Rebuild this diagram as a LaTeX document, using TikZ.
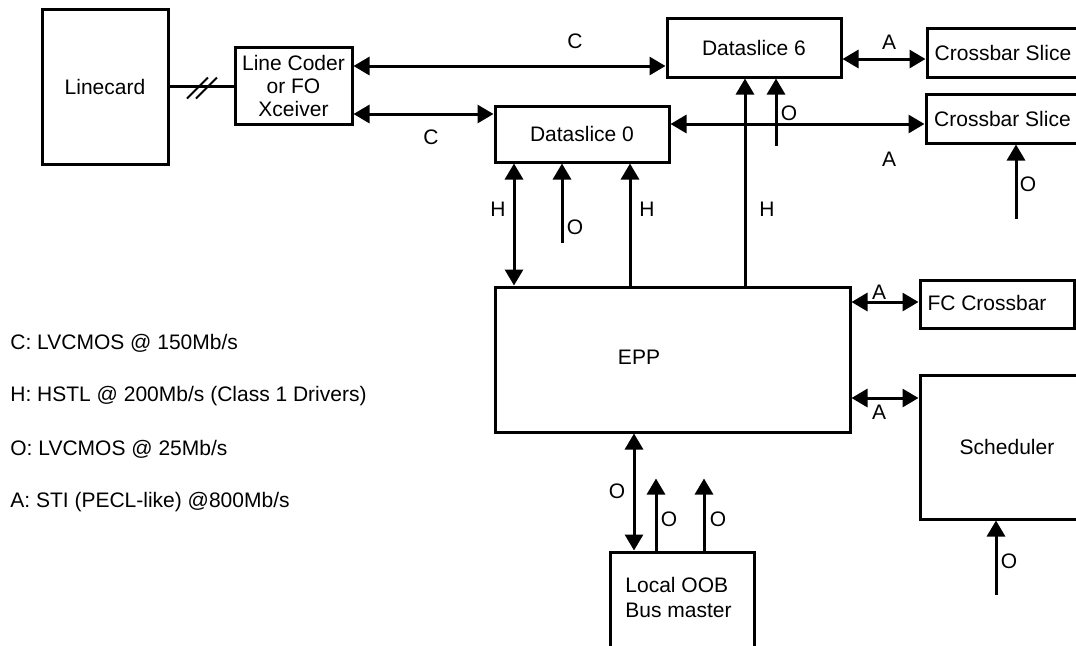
\documentclass[tikz,border=0pt]{standalone}
\usepackage{fontspec}
\setmainfont{Liberation Sans}
\usetikzlibrary{arrows.meta,calc}
\begin{document}
\begin{tikzpicture}[x=0.5pt,y=-0.5pt,
  every node/.style={font=\fontsize{10.5}{11.5}\selectfont},
  box/.style={draw,line width=1.5pt,inner sep=0pt},
  lbl/.style={inner sep=0pt},
  tip/.tip={Triangle[length=8pt,width=9pt]},
  arr/.style={line width=1.5pt,-tip},
  biarr/.style={line width=1.5pt,tip-tip},
  slash/.style={line width=1pt}]
\clip (0,0) rectangle (1076,645);
\useasboundingbox (0,0) rectangle (1076,645);

% boxes
\node[box,minimum width=63pt,minimum height=77.5pt] (linecard) at (105,86.5) {Linecard};
\node[box,minimum width=58.5pt,minimum height=38.5pt,align=center] (lc) at (293.5,85.5) {Line Coder\\or FO\\Xceiver};
\node[box,minimum width=87pt,minimum height=29.5pt] (ds6) at (754,47.5) {Dataslice 6};
\node[box,minimum width=87pt,minimum height=28pt] (ds0) at (582,134) {Dataslice 0};
\node[box,minimum width=76pt,minimum height=24.5pt] (cb1) at (1003,52.5) {Crossbar Slice};
\node[box,minimum width=76.5pt,minimum height=24.5pt] (cb2) at (1002.5,118.5) {Crossbar Slice};
\node[box,minimum width=77pt,minimum height=24pt] (fc) at (997,304) {};
\node[lbl] (fct) at (987,303) {FC Crossbar};
\node[box,minimum width=177.5pt,minimum height=72.5pt] (epp) at (672.5,359.5) {};
\node[lbl] (eppt) at (639,357) {EPP};
\node[box,minimum width=87pt,minimum height=72pt] (sched) at (1007,447) {Scheduler};
\node[box,minimum width=72pt,minimum height=74pt] (oob) at (682,626) {};
\node[lbl,anchor=west,align=left,font=\fontsize{10.5}{12.5}\selectfont] (oobt) at (625,597.5) {Local OOB\\Bus master};

% linecard link with double slash
\draw[line width=1.5pt] (linecard.east) -- (linecard.east -| lc.west);
\coordinate (mid) at ($(linecard.east)!0.5!(linecard.east -| lc.west)$);
\draw[slash] ([shift={(-14.5,12)}]mid) -- ([shift={(6.5,-9)}]mid);
\draw[slash] ([shift={(-5.5,12)}]mid) -- ([shift={(15.5,-9)}]mid);

% horizontal connectors
\draw[biarr] ([yshift=9.75pt]lc.east) -- ([yshift=-9.25pt]ds6.west);
\draw[biarr] ([yshift=-14.25pt]lc.east) -- ([yshift=10pt]ds0.west);
\draw[biarr] ([yshift=-5.75pt]ds6.east) -- ([yshift=-3.25pt]cb1.west);
\draw[biarr] ([yshift=5pt]ds0.east) -- ([yshift=-2.75pt]cb2.west);
\draw[biarr] ([yshift=28.75pt]epp.east) -- ([yshift=1pt]fc.west);
\draw[biarr] ([yshift=-19.25pt]epp.east) -- ([yshift=24.5pt]sched.west);

% vertical connectors around dataslices
\coordinate (h0) at ([xshift=-34pt]ds0.south);
\draw[biarr] (h0) -- (h0 |- epp.north);
\coordinate (o0) at ([xshift=-10pt]ds0.south);
\coordinate (o0e) at ([yshift=-39.5pt]o0);
\draw[arr] (o0e) -- (o0);
\coordinate (h1) at ([xshift=24pt]ds0.south);
\draw[arr] (h1 |- epp.north) -- (h1);
\coordinate (h6) at ([xshift=-4.5pt]ds6.south);
\draw[arr] (h6 |- epp.north) -- (h6);
\coordinate (o6) at ([xshift=11pt]ds6.south);
\coordinate (o6e) at ([yshift=-33.5pt]o6);
\draw[arr] (o6e) -- (o6);
\coordinate (oc) at ([xshift=6.75pt]cb2.south);
\coordinate (oce) at ([yshift=-37pt]oc);
\draw[arr] (oce) -- (oc);
\coordinate (os) at ([xshift=-5.5pt]sched.south);
\coordinate (ose) at ([yshift=-37pt]os);
\draw[arr] (ose) -- (os);

% local OOB connectors
\coordinate (b0) at ([xshift=-24pt]oob.north);
\draw[biarr] (b0 |- epp.south) -- (b0);
\coordinate (b1) at ([xshift=-13pt]oob.north);
\coordinate (b1e) at ([yshift=36pt]b1);
\draw[arr] (b1) -- (b1e);
\coordinate (b2) at ([xshift=11pt]oob.north);
\coordinate (b2e) at ([yshift=36pt]b2);
\draw[arr] (b2) -- (b2e);

% connector labels
\node[lbl] (lC1) at (575,41) {C};
\node[lbl] (lC2) at (431,137) {C};
\node[lbl] (lA1) at (889,42) {A};
\node[lbl] (lA2) at (889,159) {A};
\node[lbl] (lO6) at (789,113) {O};
\node[lbl] (lH0) at (498,209) {H};
\node[lbl] (lO0) at (575,227) {O};
\node[lbl] (lH1) at (647,209) {H};
\node[lbl] (lH6) at (767,209) {H};
\node[lbl] (lOc) at (1028,184) {O};
\node[lbl] (lA3) at (879,292) {A};
\node[lbl] (lA4) at (879,412) {A};
\node[lbl] (lOs) at (1009,561) {O};
\node[lbl] (lB0) at (617,491) {O};
\node[lbl] (lB1) at (669,519) {O};
\node[lbl] (lB2) at (718,519) {O};

% legend
\node[lbl,anchor=west] (legC) at (10,343) {C: LVCMOS @ 150Mb/s};
\node[lbl,anchor=west] (legH) at (10,396) {H: HSTL @ 200Mb/s (Class 1 Drivers)};
\node[lbl,anchor=west] (legO) at (10,449) {O: LVCMOS @ 25Mb/s};
\node[lbl,anchor=west] (legA) at (10,502) {A: STI (PECL-like) @800Mb/s};
\end{tikzpicture}
\end{document}
